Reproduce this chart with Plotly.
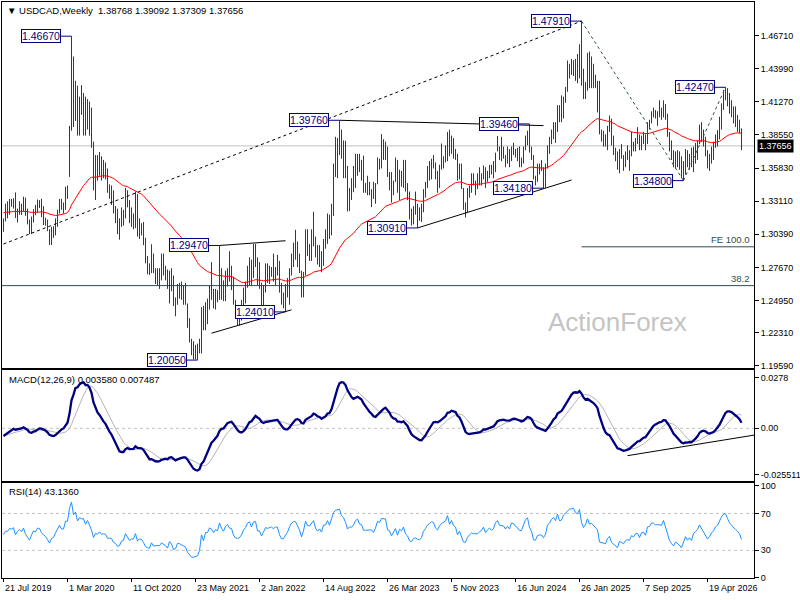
import numpy as np
import pandas as pd
import plotly.graph_objects as go
from plotly.subplots import make_subplots

# USDCAD weekly bars, one list per calendar year (weeks start on Sunday)
first_week = "2019-07-21"

hi_2019 = [1.3170, 1.3290, 1.3310, 1.3330, 1.3330, 1.3335, 1.3383, 1.3250, 1.3310, 1.3290, 1.3348, 1.3340,
           1.3250, 1.3160, 1.3185, 1.3245, 1.3280, 1.3325, 1.3320, 1.3330, 1.3270, 1.3175, 1.3160, 1.3080]
lo_2019 = [1.3060, 1.3145, 1.3170, 1.3200, 1.3265, 1.3250, 1.3173, 1.3135, 1.3200, 1.3198, 1.3230, 1.3190,
           1.3120, 1.3040, 1.3042, 1.3135, 1.3195, 1.3215, 1.3255, 1.3180, 1.3115, 1.3110, 1.3065, 1.2951]
cl_2019 = [1.3160, 1.3233, 1.3236, 1.3296, 1.3285, 1.3315, 1.3175, 1.3244, 1.3283, 1.3243, 1.3315, 1.3195,
           1.3125, 1.3055, 1.3150, 1.3235, 1.3215, 1.3295, 1.3290, 1.3210, 1.3165, 1.3135, 1.3070, 1.2985]

hi_2020 = [1.3100, 1.3105, 1.3170, 1.3240, 1.3330, 1.3330, 1.3300, 1.3430, 1.3440, 1.3930, 1.4667, 1.4500,
           1.4300, 1.4260, 1.4170, 1.4265, 1.4200, 1.4170, 1.4150, 1.4130, 1.4080, 1.3800, 1.3690, 1.3690,
           1.3715, 1.3680, 1.3650, 1.3630, 1.3580, 1.3450, 1.3440, 1.3400, 1.3270, 1.3250, 1.3170, 1.3260,
           1.3240, 1.3420, 1.3400, 1.3320, 1.3260, 1.3210, 1.3390, 1.3370, 1.3170, 1.3130, 1.3140, 1.3010,
           1.2860, 1.2800, 1.2957, 1.2880]
lo_2020 = [1.2950, 1.3010, 1.3030, 1.3100, 1.3210, 1.3240, 1.3210, 1.3240, 1.3330, 1.3510, 1.3890, 1.3920,
           1.3970, 1.3850, 1.3850, 1.4020, 1.3850, 1.3850, 1.3900, 1.3850, 1.3750, 1.3400, 1.3320, 1.3480,
           1.3520, 1.3480, 1.3500, 1.3490, 1.3380, 1.3330, 1.3280, 1.3210, 1.3130, 1.3040, 1.2995, 1.3100,
           1.3110, 1.3170, 1.3260, 1.3130, 1.3100, 1.3080, 1.3090, 1.3020, 1.3000, 1.3030, 1.2950, 1.2800,
           1.2710, 1.2705, 1.2720, 1.2720]
cl_2020 = [1.3060, 1.3075, 1.3154, 1.3235, 1.3305, 1.3240, 1.3240, 1.3415, 1.3410, 1.3895, 1.4355, 1.4045,
           1.4215, 1.3940, 1.4140, 1.4100, 1.4110, 1.3930, 1.4120, 1.3960, 1.3770, 1.3430, 1.3600, 1.3570,
           1.3670, 1.3560, 1.3580, 1.3560, 1.3400, 1.3400, 1.3380, 1.3230, 1.3185, 1.3050, 1.3065, 1.3180,
           1.3200, 1.3380, 1.3280, 1.3140, 1.3180, 1.3180, 1.3320, 1.3060, 1.3120, 1.3100, 1.2985, 1.2810,
           1.2760, 1.2740, 1.2860, 1.2725]

hi_2021 = [1.2760, 1.2760, 1.2760, 1.2880, 1.2880, 1.2780, 1.2750, 1.2740, 1.2760, 1.2700, 1.2520, 1.2630,
           1.2640, 1.2650, 1.2620, 1.2640, 1.2470, 1.2350, 1.2180, 1.2160, 1.2130, 1.2140, 1.2180, 1.2440,
           1.2450, 1.2480, 1.2510, 1.2620, 1.2810, 1.2590, 1.2590, 1.2580, 1.2947, 1.2760, 1.2660, 1.2740,
           1.2760, 1.2900, 1.2780, 1.2690, 1.2500, 1.2400, 1.2450, 1.2500, 1.2600, 1.2650, 1.2780, 1.2850,
           1.2830, 1.2960, 1.2960, 1.2850]
lo_2021 = [1.2630, 1.2620, 1.2590, 1.2660, 1.2700, 1.2660, 1.2590, 1.2470, 1.2570, 1.2450, 1.2365, 1.2460,
           1.2510, 1.2500, 1.2460, 1.2460, 1.2270, 1.2150, 1.2045, 1.2010, 1.2010, 1.2005, 1.2060, 1.2060,
           1.2250, 1.2250, 1.2300, 1.2420, 1.2500, 1.2430, 1.2420, 1.2480, 1.2500, 1.2500, 1.2490, 1.2490,
           1.2610, 1.2650, 1.2580, 1.2460, 1.2350, 1.2288, 1.2290, 1.2330, 1.2390, 1.2470, 1.2600, 1.2620,
           1.2620, 1.2680, 1.2770, 1.2620]
cl_2021 = [1.2735, 1.2730, 1.2735, 1.2785, 1.2750, 1.2700, 1.2620, 1.2735, 1.2660, 1.2470, 1.2480, 1.2580,
           1.2570, 1.2535, 1.2510, 1.2470, 1.2290, 1.2160, 1.2070, 1.2060, 1.2075, 1.2080, 1.2150, 1.2430,
           1.2260, 1.2460, 1.2460, 1.2590, 1.2560, 1.2470, 1.2550, 1.2520, 1.2750, 1.2620, 1.2540, 1.2690,
           1.2750, 1.2660, 1.2650, 1.2470, 1.2380, 1.2365, 1.2385, 1.2445, 1.2560, 1.2630, 1.2760, 1.2800,
           1.2690, 1.2850, 1.2860, 1.2640]

hi_2022 = [1.2810, 1.2640, 1.2620, 1.2800, 1.2800, 1.2780, 1.2770, 1.2880, 1.2770, 1.2870, 1.2820, 1.2640,
           1.2560, 1.2630, 1.2680, 1.2760, 1.2880, 1.2970, 1.3076, 1.2980, 1.2880, 1.2740, 1.2730, 1.3080,
           1.3080, 1.2960, 1.3080, 1.3224, 1.3020, 1.2950, 1.2950, 1.2900, 1.3000, 1.3080, 1.3210, 1.3200,
           1.3290, 1.3620, 1.3840, 1.3830, 1.3976, 1.3900, 1.3810, 1.3808, 1.3600, 1.3420, 1.3500, 1.3600,
           1.3700, 1.3700, 1.3700, 1.3650]
lo_2022 = [1.2590, 1.2450, 1.2450, 1.2560, 1.2640, 1.2630, 1.2690, 1.2650, 1.2620, 1.2700, 1.2560, 1.2460,
           1.2430, 1.2401, 1.2520, 1.2460, 1.2700, 1.2770, 1.2830, 1.2770, 1.2720, 1.2520, 1.2520, 1.2700,
           1.2860, 1.2820, 1.2820, 1.2940, 1.2850, 1.2790, 1.2770, 1.2727, 1.2780, 1.2920, 1.2960, 1.3000,
           1.3030, 1.3190, 1.3510, 1.3500, 1.3690, 1.3660, 1.3500, 1.3500, 1.3226, 1.3230, 1.3320, 1.3385,
           1.3420, 1.3520, 1.3550, 1.3480]
cl_2022 = [1.2640, 1.2500, 1.2600, 1.2730, 1.2710, 1.2740, 1.2750, 1.2710, 1.2760, 1.2750, 1.2590, 1.2490,
           1.2490, 1.2560, 1.2620, 1.2740, 1.2840, 1.2880, 1.2880, 1.2810, 1.2730, 1.2580, 1.2710, 1.2990,
           1.2890, 1.2880, 1.2960, 1.3050, 1.2880, 1.2800, 1.2860, 1.2780, 1.2990, 1.2990, 1.3140, 1.3030,
           1.3280, 1.3590, 1.3740, 1.3770, 1.3820, 1.3670, 1.3620, 1.3500, 1.3300, 1.3380, 1.3370, 1.3450,
           1.3620, 1.3690, 1.3560, 1.3550]

hi_2023 = [1.3685, 1.3460, 1.3520, 1.3470, 1.3410, 1.3470, 1.3460, 1.3670, 1.3660, 1.3862, 1.3820, 1.3800,
           1.3760, 1.3550, 1.3550, 1.3480, 1.3670, 1.3650, 1.3570, 1.3560, 1.3650, 1.3650, 1.3460, 1.3390,
           1.3250, 1.3270, 1.3390, 1.3290, 1.3260, 1.3290, 1.3410, 1.3470, 1.3600, 1.3640, 1.3660, 1.3690,
           1.3630, 1.3560, 1.3610, 1.3785, 1.3680, 1.3770, 1.3880, 1.3899, 1.3850, 1.3830, 1.3740, 1.3700,
           1.3620, 1.3620, 1.3420, 1.3300, 1.3420]
lo_2023 = [1.3380, 1.3380, 1.3360, 1.3360, 1.3262, 1.3330, 1.3290, 1.3450, 1.3570, 1.3580, 1.3650, 1.3650,
           1.3510, 1.3400, 1.3300, 1.3360, 1.3470, 1.3380, 1.3320, 1.3430, 1.3420, 1.3390, 1.3320, 1.3160,
           1.3110, 1.3120, 1.3200, 1.3091, 1.3150, 1.3140, 1.3220, 1.3340, 1.3420, 1.3480, 1.3490, 1.3580,
           1.3490, 1.3380, 1.3420, 1.3570, 1.3580, 1.3630, 1.3640, 1.3680, 1.3700, 1.3660, 1.3650, 1.3480,
           1.3490, 1.3410, 1.3240, 1.3177, 1.3220]
cl_2023 = [1.3390, 1.3390, 1.3390, 1.3390, 1.3400, 1.3340, 1.3450, 1.3640, 1.3620, 1.3750, 1.3740, 1.3740,
           1.3520, 1.3500, 1.3370, 1.3470, 1.3550, 1.3380, 1.3540, 1.3500, 1.3610, 1.3420, 1.3360, 1.3190,
           1.3160, 1.3240, 1.3250, 1.3210, 1.3190, 1.3240, 1.3380, 1.3450, 1.3550, 1.3590, 1.3640, 1.3630,
           1.3520, 1.3480, 1.3580, 1.3640, 1.3670, 1.3710, 1.3870, 1.3710, 1.3830, 1.3720, 1.3690, 1.3500,
           1.3590, 1.3410, 1.3250, 1.3240, 1.3360]

hi_2024 = [1.3440, 1.3540, 1.3540, 1.3480, 1.3540, 1.3590, 1.3540, 1.3605, 1.3590, 1.3560, 1.3610, 1.3610,
           1.3640, 1.3710, 1.3846, 1.3760, 1.3840, 1.3760, 1.3690, 1.3760, 1.3740, 1.3760, 1.3790, 1.3740,
           1.3750, 1.3760, 1.3670, 1.3760, 1.3850, 1.3890, 1.3946, 1.3760, 1.3690, 1.3520, 1.3620, 1.3620,
           1.3650, 1.3590, 1.3620, 1.3770, 1.3840, 1.3900, 1.3960, 1.3960, 1.4100, 1.4100, 1.4180, 1.4170,
           1.4250, 1.4467, 1.4440, 1.4480]
lo_2024 = [1.3340, 1.3380, 1.3440, 1.3360, 1.3410, 1.3440, 1.3440, 1.3490, 1.3420, 1.3470, 1.3500, 1.3530,
           1.3500, 1.3550, 1.3720, 1.3650, 1.3640, 1.3660, 1.3590, 1.3620, 1.3590, 1.3640, 1.3690, 1.3670,
           1.3640, 1.3590, 1.3590, 1.3620, 1.3730, 1.3770, 1.3710, 1.3650, 1.3490, 1.3440, 1.3470, 1.3530,
           1.3560, 1.3418, 1.3420, 1.3580, 1.3700, 1.3780, 1.3820, 1.3790, 1.3880, 1.3960, 1.3960, 1.3990,
           1.4120, 1.4210, 1.4320, 1.4350]
cl_2024 = [1.3420, 1.3470, 1.3450, 1.3450, 1.3450, 1.3490, 1.3520, 1.3590, 1.3480, 1.3540, 1.3580, 1.3540,
           1.3570, 1.3700, 1.3760, 1.3680, 1.3670, 1.3670, 1.3620, 1.3670, 1.3630, 1.3750, 1.3740, 1.3700,
           1.3680, 1.3640, 1.3640, 1.3740, 1.3840, 1.3880, 1.3740, 1.3680, 1.3500, 1.3490, 1.3570, 1.3580,
           1.3580, 1.3530, 1.3580, 1.3760, 1.3800, 1.3890, 1.3950, 1.3900, 1.4090, 1.3980, 1.4000, 1.4160,
           1.4230, 1.4350, 1.4400, 1.4410]

hi_2025 = [1.4470, 1.4480, 1.4520, 1.4600, 1.4791, 1.4400, 1.4290, 1.4530, 1.4540, 1.4500, 1.4440, 1.4350,
           1.4300, 1.4300, 1.3900, 1.3890, 1.3860, 1.3930, 1.4015, 1.3990, 1.3850, 1.3750, 1.3720, 1.3740,
           1.3780, 1.3690, 1.3720, 1.3770, 1.3730, 1.3880, 1.3800, 1.3830, 1.3920, 1.3860, 1.3850, 1.3880,
           1.3860, 1.3960, 1.3980, 1.4050, 1.4080, 1.4060, 1.4050, 1.4140, 1.4080, 1.4140, 1.4110, 1.4030,
           1.3880, 1.3810, 1.3730, 1.3720]
lo_2025 = [1.4340, 1.4300, 1.4280, 1.4320, 1.4260, 1.4150, 1.4150, 1.4220, 1.4240, 1.4240, 1.4240, 1.4240,
           1.4040, 1.3860, 1.3800, 1.3760, 1.3760, 1.3730, 1.3880, 1.3770, 1.3690, 1.3640, 1.3570, 1.3540,
           1.3660, 1.3560, 1.3590, 1.3650, 1.3560, 1.3680, 1.3720, 1.3720, 1.3780, 1.3730, 1.3730, 1.3780,
           1.3730, 1.3780, 1.3900, 1.3950, 1.4000, 1.3990, 1.3930, 1.4000, 1.3980, 1.4000, 1.3980, 1.3840,
           1.3720, 1.3650, 1.3590, 1.3580]
cl_2025 = [1.4440, 1.4380, 1.4360, 1.4520, 1.4300, 1.4190, 1.4270, 1.4470, 1.4350, 1.4380, 1.4330, 1.4300,
           1.4230, 1.3870, 1.3850, 1.3840, 1.3810, 1.3920, 1.3970, 1.3780, 1.3720, 1.3680, 1.3590, 1.3720,
           1.3680, 1.3640, 1.3700, 1.3720, 1.3700, 1.3790, 1.3760, 1.3820, 1.3830, 1.3740, 1.3830, 1.3840,
           1.3780, 1.3950, 1.3960, 1.4040, 1.4040, 1.4010, 1.4020, 1.4010, 1.4010, 1.4100, 1.4000, 1.3860,
           1.3760, 1.3680, 1.3620, 1.3680]

hi_2026 = [1.3730, 1.3720, 1.3680, 1.3640, 1.3740, 1.3730, 1.3700, 1.3750, 1.3760, 1.3790, 1.3810, 1.3940,
           1.3960, 1.3900, 1.3840, 1.3730, 1.3700, 1.3760, 1.3800, 1.3860, 1.3895, 1.4005, 1.4115, 1.4225,
           1.4247, 1.4240, 1.4200, 1.4140, 1.4090, 1.4090, 1.4020, 1.3980, 1.39092]
lo_2026 = [1.3590, 1.3570, 1.3500, 1.3480, 1.3530, 1.3590, 1.3570, 1.3590, 1.3550, 1.3620, 1.3650, 1.3780,
           1.3800, 1.3760, 1.3680, 1.3580, 1.3560, 1.3620, 1.3650, 1.3750, 1.3760, 1.3820, 1.3900, 1.4060,
           1.4140, 1.4090, 1.4030, 1.4000, 1.3950, 1.3920, 1.3880, 1.3870, 1.37309]
cl_2026 = [1.3640, 1.3600, 1.3530, 1.3600, 1.3700, 1.3620, 1.3660, 1.3600, 1.3720, 1.3760, 1.3800, 1.3900,
           1.3830, 1.3780, 1.3700, 1.3620, 1.3660, 1.3730, 1.3770, 1.3850, 1.3880, 1.3980, 1.4100, 1.4180,
           1.4200, 1.4130, 1.4060, 1.4020, 1.3980, 1.3950, 1.3920, 1.3877, 1.37656]
last_open = 1.38768

ema55_seed = 1.3220
ema12_seed, ema26_seed = 1.3185, 1.3228
rsi_gain_seed, rsi_loss_seed = 0.0040, 0.0045

# y axis labels as printed by the terminal
price_ticks = ["1.46710", "1.43990", "1.41270", "1.38550", "1.35830", "1.33110",
               "1.30390", "1.27670", "1.24950", "1.22310", "1.19590"]
macd_ticks = ["0.0278", "0.00", "-0.025511"]
rsi_ticks = ["100", "70", "30", "0"]

# swing high / low labels
swing_dates = ["2020-03-15", "2021-05-30", "2021-08-15", "2022-04-03", "2022-10-09", "2023-07-09",
               "2024-08-04", "2024-09-22", "2025-02-02", "2026-01-25", "2026-06-21"]
swing_prices = [1.4667, 1.2005, 1.2947, 1.2401, 1.3976, 1.3091,
                1.3946, 1.3418, 1.4791, 1.3480, 1.4247]

# drawn lines: (date, price)
long_channel = [("2019-07-21", 1.2959), ("2025-02-02", 1.4791)]
top_line_2022 = [("2022-10-09", 1.3976), ("2024-09-22", 1.3932)]
low_line_2023 = [("2023-07-09", 1.3091), ("2024-12-29", 1.3485)]
top_line_2021 = [("2021-08-15", 1.2947), ("2022-04-03", 1.2986)]
low_line_2021 = [("2021-07-18", 1.2226), ("2022-04-24", 1.2418)]
fe_path = [("2025-02-02", 1.4791), ("2026-01-25", 1.3480), ("2026-06-21", 1.4247)]
fe_100_level = 1.2936
fib_382_level = 1.2617
macd_trend = [("2025-07-13", -0.0150), ("2026-09-30", -0.0037)]

FONT = "Liberation Sans, Arial, sans-serif"
BAR_COLOR = "#16455a"
NAVY = "#000080"
SLATE = "#2f4f4f"


def ema(values, period, seed):
    k = 2.0 / (period + 1)
    out, prev = [], seed
    for v in values:
        prev = prev + k * (v - prev)
        out.append(prev)
    return np.array(out)


def wilder_rsi(values, period, gain0, loss0):
    g, l = gain0, loss0
    out, prev = [], values[0]
    for v in values:
        d = v - prev
        g = (g * (period - 1) + max(d, 0)) / period
        l = (l * (period - 1) + max(-d, 0)) / period
        out.append(100 - 100 / (1 + g / l) if l > 0 else 100)
        prev = v
    return np.array(out)


high = np.array(hi_2019 + hi_2020 + hi_2021 + hi_2022 + hi_2023 + hi_2024 + hi_2025 + hi_2026)
low = np.array(lo_2019 + lo_2020 + lo_2021 + lo_2022 + lo_2023 + lo_2024 + lo_2025 + lo_2026)
close = np.array(cl_2019 + cl_2020 + cl_2021 + cl_2022 + cl_2023 + cl_2024 + cl_2025 + cl_2026)
opens = np.concatenate([[close[0]], close[:-1]])
opens[-1] = last_open

dates = pd.date_range(first_week, periods=len(close), freq="7D")
week = pd.Timedelta(days=7)
# 2 px per week; quarter-week offset keeps each 1 px bar on a whole pixel
x_start = dates[0] - 0.75 * week
x_end = x_start + 376 * week

ma55 = ema(close, 55, ema55_seed)
macd = ema(close, 12, ema12_seed) - ema(close, 26, ema26_seed)
signal = pd.Series(macd).rolling(9, min_periods=1).mean().values
rsi = wilder_rsi(close, 14, rsi_gain_seed, rsi_loss_seed)

fig = make_subplots(rows=3, cols=1, shared_xaxes=True, vertical_spacing=0.004)

fig.add_trace(go.Ohlc(x=dates, open=opens, high=high, low=low, close=close, tickwidth=0,
                      increasing_line_color=BAR_COLOR, decreasing_line_color=BAR_COLOR,
                      line_width=1, showlegend=False), row=1, col=1)
fig.add_trace(go.Scatter(x=dates, y=ma55, mode="lines", line=dict(color="#ff0000", width=1),
                         showlegend=False), row=1, col=1)
fig.add_trace(go.Scatter(x=dates, y=signal, mode="lines", line=dict(color="#b4b4b4", width=1),
                         showlegend=False), row=2, col=1)
fig.add_trace(go.Scatter(x=dates, y=macd, mode="lines", line=dict(color=NAVY, width=2.3),
                         showlegend=False), row=2, col=1)
fig.add_trace(go.Scatter(x=dates, y=rsi, mode="lines", line=dict(color="#1e90ff", width=1),
                         showlegend=False), row=3, col=1)

shapes = []


def hline(y, yref, color, dash="solid", xref="x domain"):
    shapes.append(dict(type="line", xref=xref, yref=yref, x0=0, x1=1, y0=y, y1=y,
                       line=dict(color=color, width=1, dash=dash), layer="below"))


hline(close[-1], "y", "#c0c0c0")
hline(fib_382_level, "y", SLATE)
hline(0, "y2", "#c0c0c0", "dot", "x2 domain")
hline(70, "y3", "#c0c0c0", "dot", "x3 domain")
hline(30, "y3", "#c0c0c0", "dot", "x3 domain")

shapes.append(dict(type="line", xref="x", yref="y", x0=fe_path[0][0], x1=x_end,
                   y0=fe_100_level, y1=fe_100_level, line=dict(color=SLATE, width=1)))


def segment(points, color, dash="solid", yref="y", xref="x"):
    for (xa, ya), (xb, yb) in zip(points[:-1], points[1:]):
        shapes.append(dict(type="line", xref=xref, yref=yref, x0=xa, y0=ya, x1=xb, y1=yb,
                           line=dict(color=color, width=1, dash=dash)))


segment(long_channel, "black", "dot")
segment(top_line_2022, "black")
segment(low_line_2023, "black")
segment(top_line_2021, "black")
segment(low_line_2021, "black")
segment(fe_path, SLATE, "dot")
segment(macd_trend, "black", yref="y2", xref="x2")

annotations = []
for d, p in zip(swing_dates, swing_prices):
    annotations.append(dict(x=d, y=p, xref="x", yref="y", text=f"{p:.5f}", showarrow=True,
                            arrowhead=0, arrowwidth=1, arrowcolor=NAVY, ax=-30.5, ay=0,
                            bgcolor="white", bordercolor=NAVY, borderwidth=1, borderpad=0,
                            font=dict(family=FONT, size=10.5, color=NAVY)))

annotations += [
    dict(xref="paper", yref="paper", x=0.004, y=0.9845, xanchor="left", yanchor="middle",
         showarrow=False, font=dict(family=FONT, size=9.5, color="black"),
         text=f"▼ USDCAD,Weekly  {last_open:.5f} {high[-1]:.5f} {low[-1]:.5f} {close[-1]:.5f}"),
    dict(xref="paper", yref="paper", x=0.006, y=0.3445, xanchor="left", yanchor="middle",
         showarrow=False, font=dict(family=FONT, size=9.5, color="black"),
         text="MACD(12,26,9) 0.003580 0.007487"),
    dict(xref="paper", yref="paper", x=0.006, y=0.1495, xanchor="left", yanchor="middle",
         showarrow=False, font=dict(family=FONT, size=9.5, color="black"),
         text="RSI(14) 43.1360"),
    dict(xref="paper", yref="y", x=0.998, y=fib_382_level, xanchor="right", yanchor="bottom",
         showarrow=False, font=dict(family=FONT, size=9.5, color=SLATE), text="38.2"),
    dict(xref="paper", yref="y", x=0.998, y=fe_100_level, xanchor="right", yanchor="bottom",
         showarrow=False, font=dict(family=FONT, size=9.5, color=SLATE), text="FE 100.0"),
    dict(xref="paper", yref="paper", x=0.819, y=0.444, xanchor="center", yanchor="middle",
         showarrow=False, font=dict(family=FONT, size=26, color="#c4c4c4"), text="ActionForex"),
    dict(xref="paper", yref="y", x=1.0, y=close[-1], xanchor="left", yanchor="middle", xshift=3,
         showarrow=False, bgcolor="black", borderpad=1,
         font=dict(family=FONT, size=9, color="white"), text=f"{close[-1]:.5f}"),
]

tick_dates = dates[::32]
for d in tick_dates:
    annotations.append(dict(x=d, y=-0.0175, xref="x3", yref="paper", xanchor="left",
                            yanchor="middle", showarrow=False, xshift=-1,
                            text=f"{d.day} {d.strftime('%b %Y')}",
                            font=dict(family=FONT, size=9, color="black")))

axis_style = dict(showgrid=False, zeroline=False, showline=True, mirror=True,
                  linecolor="black", linewidth=1, automargin=False)
fig.update_xaxes(range=[x_start, x_end], showticklabels=False, ticks="", **axis_style)
fig.update_xaxes(ticks="outside", ticklen=3, tickcolor="black", tickvals=tick_dates, row=3, col=1)
fig.update_yaxes(side="right", ticks="outside", ticklen=4, tickcolor="black",
                 tickfont=dict(family=FONT, size=9, color="black"), **axis_style)

fig.update_layout(
    width=800, height=600,
    margin=dict(l=2, r=46, t=2, b=22),
    paper_bgcolor="white", plot_bgcolor="white",
    showlegend=False,
    xaxis_rangeslider_visible=False,
    yaxis=dict(domain=[0.3646, 1.0], range=[1.1940, 1.4948],
               tickvals=[float(t) for t in price_ticks], ticktext=price_ticks),
    yaxis2=dict(domain=[0.1684, 0.3611], range=[-0.0289, 0.0320],
                tickvals=[float(t) for t in macd_ticks], ticktext=macd_ticks),
    yaxis3=dict(domain=[0.0, 0.1649], range=[0, 103],
                tickvals=[float(t) for t in rsi_ticks], ticktext=rsi_ticks),
    shapes=shapes,
    annotations=annotations,
)

fig.write_html("out.html", config={"displayModeBar": False},
               post_script="document.body.style.margin='0';")
